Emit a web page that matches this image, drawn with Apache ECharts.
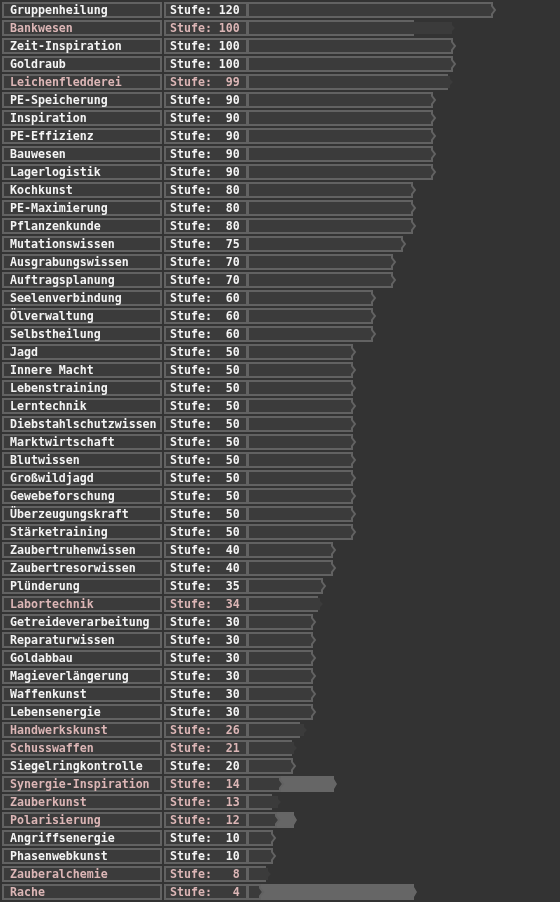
<!DOCTYPE html>
<html>
<head>
<meta charset="utf-8">
<script src="https://cdn.jsdelivr.net/npm/echarts@6/dist/echarts.min.js"></script>
<style>
html,body{margin:0;padding:0;background:#333333;}
#chart{width:560px;height:902px;}
</style>
</head>
<body>
<div id="chart"></div>
<script>
const names = ["Gruppenheilung","Bankwesen","Zeit-Inspiration","Goldraub","Leichenfledderei","PE-Speicherung","Inspiration","PE-Effizienz","Bauwesen","Lagerlogistik","Kochkunst","PE-Maximierung","Pflanzenkunde","Mutationswissen","Ausgrabungswissen","Auftragsplanung","Seelenverbindung","Ölverwaltung","Selbstheilung","Jagd","Innere Macht","Lebenstraining","Lerntechnik","Diebstahlschutzwissen","Marktwirtschaft","Blutwissen","Großwildjagd","Gewebeforschung","Überzeugungskraft","Stärketraining","Zaubertruhenwissen","Zaubertresorwissen","Plünderung","Labortechnik","Getreideverarbeitung","Reparaturwissen","Goldabbau","Magieverlängerung","Waffenkunst","Lebensenergie","Handwerkskunst","Schusswaffen","Siegelringkontrolle","Synergie-Inspiration","Zauberkunst","Polarisierung","Angriffsenergie","Phasenwebkunst","Zauberalchemie","Rache"];
const levels = [120,100,100,100,99,90,90,90,90,90,80,80,80,75,70,70,60,60,60,50,50,50,50,50,50,50,50,50,50,50,40,40,35,34,30,30,30,30,30,30,26,21,20,14,13,12,10,10,8,4];
// outlined bar end
const outlineValues = [120,81,100,100,98,90,90,90,90,90,80,80,80,75,70,70,60,60,60,50,50,50,50,50,50,50,50,50,50,50,40,40,35,33,30,30,30,30,30,30,24,20,20,14,10,12,10,10,7,4];
// extension bar end (null = none)
const extValues = [null,100,null,null,99,null,null,null,null,null,null,null,null,null,null,null,null,null,null,null,null,null,null,null,null,null,null,null,null,null,null,null,null,34,null,null,null,null,null,null,26,21,null,41,13,21,null,null,8,81];

const BG = '#333333', CELL = '#3b3b3b', BORDER = '#626262', GAIN = '#666666';
const WHITE = '#f4f4f4', PINK = '#dcb6b6';
const FONT = 'bold 11.6px "DejaVu Sans Mono", "Liberation Mono", monospace';

const data = names.map((n, i) => [outlineValues[i], i, levels[i], extValues[i] == null ? -999 : extValues[i]]);

function chevron(x0, E, t, b, cy) {
  return [[x0, t], [E, t], [E, t + 3], [E + 3, cy], [E, b - 3], [E, b], [x0, b]];
}

function renderItem(params, api) {
  const i = api.value(1);
  const lvl = api.value(2);
  const outl = api.value(0);
  const ext = api.value(3);
  const cy = api.coord([0, i])[1];
  const band = api.size([0, 1])[1];
  const top = cy - band / 2 + 2;
  const bot = cy + band / 2 - 2;
  const x0 = params.coordSys.x;
  const Eo = api.coord([outl, i])[0];
  const hasExt = ext > -100;
  const color = hasExt ? PINK : WHITE;
  const children = [];
  children.push({type: 'rect', shape: {x: 3, y: top, width: 158, height: bot - top},
    style: {fill: CELL, stroke: BORDER, lineWidth: 2}});
  children.push({type: 'rect', shape: {x: 165, y: top, width: 82, height: bot - top},
    style: {fill: CELL, stroke: BORDER, lineWidth: 2}});
  if (hasExt && ext > lvl) {
    const Ee = api.coord([ext, i])[0];
    children.push({type: 'polygon', shape: {points: chevron(x0, Ee, top - 1, bot + 1, cy)},
      style: {fill: GAIN}});
    children.push({type: 'polygon', shape: {points: chevron(x0, Eo, top, bot, cy)},
      style: {fill: CELL, stroke: BORDER, lineWidth: 2}});
  } else if (hasExt) {
    const Ee = api.coord([ext, i])[0];
    children.push({type: 'polygon', shape: {points: chevron(x0, Ee, top + 1, bot - 1, cy)},
      style: {fill: CELL}});
    children.push({type: 'polyline', shape: {points: [[Eo, top], [x0, top], [x0, bot], [Eo, bot]]},
      style: {fill: null, stroke: BORDER, lineWidth: 2}});
  } else {
    children.push({type: 'polygon', shape: {points: chevron(x0, Eo, top, bot, cy)},
      style: {fill: CELL, stroke: BORDER, lineWidth: 2}});
  }
  children.push({type: 'text', style: {text: names[i], x: 10, y: cy + 0.5, fill: color, font: FONT, verticalAlign: 'middle', align: 'left'}});
  children.push({type: 'text', style: {text: 'Stufe: ' + String(lvl).padStart(3, ' '), x: 170, y: cy + 0.5, fill: color, font: FONT, verticalAlign: 'middle', align: 'left'}});
  return {type: 'group', children: children};
}

const chart = echarts.init(document.getElementById('chart'), null, {renderer: 'canvas'});
chart.setOption({
  backgroundColor: BG,
  animation: false,
  grid: {left: 248, width: 304, top: 1, height: 900},
  xAxis: {type: 'value', min: -2, max: 150, show: false},
  yAxis: {type: 'category', data: names, inverse: true, show: false},
  series: [{
    type: 'custom',
    renderItem: renderItem,
    data: data,
    encode: {x: 0, y: 1},
    clip: false,
    silent: true
  }]
});
</script>
</body>
</html>
